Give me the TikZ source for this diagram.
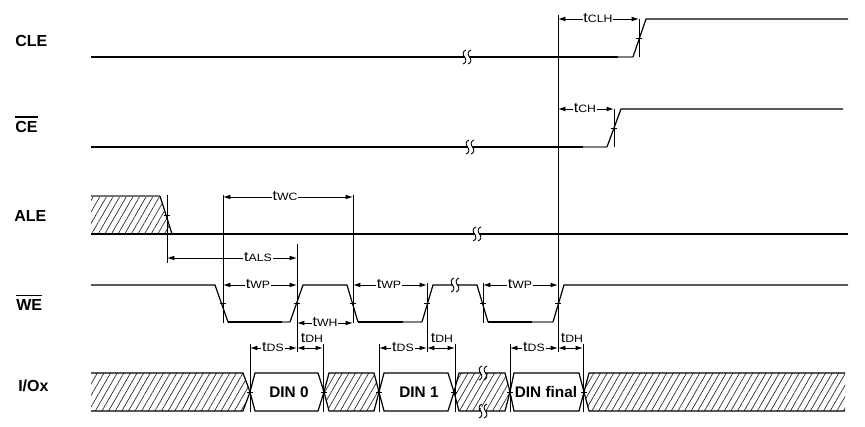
\documentclass[tikz,border=0pt]{standalone}
\usepackage{fontspec}
\setmainfont{Liberation Sans}
\newfontfamily\tfont[FakeStretch=1.15]{Liberation Sans}
\usetikzlibrary{arrows.meta,patterns.meta}
\newcommand\tlab[1]{{\tfont\fontsize{10.5}{11}\selectfont t\fontsize{8}{9}\selectfont #1}}
\tikzset{
 thinw/.style={line width=0.9pt},
 thickw/.style={line width=1.6pt},
 greyw/.style={line width=1.6pt, black!50},
 vref/.style={line width=0.7pt},
 tickm/.style={line width=0.7pt},
 dimarr/.style={line width=0.7pt, {Latex[length=5.5pt,width=3.5pt]}-{Latex[length=5.5pt,width=3.5pt]}},
 dimlab/.style={fill=white, inner sep=0.6pt, anchor=base},
 toplab/.style={inner sep=0pt, anchor=base},
 siglab/.style={font=\bfseries\fontsize{12}{14}\selectfont, inner sep=0pt, anchor=west},
 dinlab/.style={font=\bfseries\fontsize{11.5}{13}\selectfont, inner sep=0pt},
 hatch/.style={pattern={Lines[angle=60,distance=4.3pt,line width=0.5pt]}, pattern color=black!85},
 brk/.pic={
   \fill[white] (-2.2,-4) rectangle (2.2,4);
   \draw[line width=0.7pt] (-1,-7) .. controls (-4.5,-6) and (-4.5,-2) .. (-2.5,0) .. controls (-0.5,2) and (-0.5,6) .. (-4,7);
   \draw[line width=0.7pt] (4,-7) .. controls (0.5,-6) and (0.5,-2) .. (2.5,0) .. controls (4.5,2) and (4.5,6) .. (1,7);
 }
}
\begin{document}
\begin{tikzpicture}[x=0.75pt,y=-0.75pt]
\useasboundingbox (0,0) rectangle (865,427);
% signal labels
\node[siglab] (lcle) at (15,41) {CLE};
\node[siglab] (lce) at (15,127) {CE};
\draw[line width=0.9pt] ([yshift=3pt]lce.north west) -- ([yshift=3pt]lce.north east);
\node[siglab] (lale) at (14,216) {ALE};
\node[siglab] (lwe) at (16,305) {WE};
\draw[line width=0.9pt] ([yshift=3pt]lwe.north west) -- ([yshift=3pt]lwe.north east);
\node[siglab] (lio) at (18,386) {I/Ox};

% CLE
\draw[thickw] (91,57) -- (618,57);
\draw[greyw] (618,57) -- (633,57);
\draw[thinw] (633,57) -- (646,19) -- (848,19);
% CE
\draw[thinw] (91,147) -- (583,147);
\draw[thinw, black!50] (583,147) -- (607,147);
\draw[thinw] (607,147) -- (621,109) -- (843,109);
% ALE
\fill[hatch] (91,196) -- (160,196) -- (172,234) -- (91,234) -- cycle;
\draw[thinw, black!55] (91,196) -- (160,196);
\draw[thinw] (160,196) -- (172,234);
\draw[thickw] (91,234) -- (848,234);
% WE
\draw[thinw] (91,285) -- (215,285) -- (228,322);
\draw[thickw] (228,322) -- (282,322);
\draw[greyw] (282,322) -- (290,322);
\draw[thinw] (290,322) -- (303,285) -- (347,285) -- (358,322);
\draw[thickw] (358,322) -- (403,322);
\draw[greyw] (403,322) -- (422,322);
\draw[thinw] (422,322) -- (433,285) -- (477,285) -- (488,322);
\draw[thickw] (488,322) -- (532,322);
\draw[greyw] (532,322) -- (553,322);
\draw[thinw] (553,322) -- (564,285) -- (848,285);

% I/O bus
\draw[thinw, hatch] (91,373) -- (243,373) -- (250,392) -- (243,411) -- (91,411);
\draw[thinw] (250,392) -- (255,373) -- (318,373) -- (324,392) -- (318,411) -- (255,411) -- cycle;
\draw[thinw, hatch] (324,392) -- (329,373) -- (374,373) -- (379,392) -- (374,411) -- (329,411) -- cycle;
\draw[thinw] (379,392) -- (384,373) -- (448,373) -- (454,392) -- (448,411) -- (384,411) -- cycle;
\draw[thinw, hatch] (454,392) -- (459,373) -- (505,373) -- (510,392) -- (505,411) -- (459,411) -- cycle;
\draw[thinw] (510,392) -- (514,373) -- (579,373) -- (584,392) -- (579,411) -- (514,411) -- cycle;
\draw[thinw, hatch] (845,373) -- (589,373) -- (584,392) -- (589,411) -- (845,411);
\node[dinlab] (din0) at (289,392) {DIN 0};
\node[dinlab] (din1) at (419,392) {DIN 1};
\node[dinlab] (dinf) at (546,392) {DIN final};

% breaks
\pic at (467,57) {brk};
\pic at (470,147) {brk};
\pic at (477,234) {brk};
\pic at (455,285) {brk};
\pic at (483,373) {brk};
\pic at (483,411) {brk};

% reference verticals
\draw[vref] (167,195) -- (167,263);
\draw[vref] (223,195) -- (223,323);
\draw[vref] (353,195) -- (353,323);
\draw[vref] (297,244) -- (297,352);
\draw[vref] (427,283) -- (427,352);
\draw[vref] (483,283) -- (483,323);
\draw[vref] (558,15) -- (558,352);
\draw[vref] (639,19) -- (639,57);
\draw[vref] (614,109) -- (614,147);
\foreach \xx in {250,323,379,455,510,583} \draw[vref] (\xx,344) -- (\xx,412);

% ticks
\foreach \xx/\yy in {639/38,614/128,167/215,223/303,297/303,353/303,427/303,483/303,558/303,250/392,324/392,379/392,454/392,510/392,584/392}
  \draw[tickm] (\xx-3,\yy) -- (\xx+3,\yy);

% dimensions
\draw[dimarr] (558,19) -- (639,19);
\node[dimlab] (tclh) at (598,22.5) {\tlab{CLH}};
\draw[dimarr] (558,109) -- (614,109);
\node[dimlab] (tch) at (585,112.5) {\tlab{CH}};
\draw[dimarr] (223,197) -- (353,197);
\node[dimlab] (twc) at (285,200.5) {\tlab{WC}};
\draw[dimarr] (167,258) -- (297,258);
\node[dimlab] (tals) at (258,261.5) {\tlab{ALS}};
\draw[dimarr] (223,285) -- (297,285);
\node[dimlab] (twp1) at (258,288.5) {\tlab{WP}};
\draw[dimarr] (353,285) -- (427,285);
\node[dimlab] (twp2) at (389,288.5) {\tlab{WP}};
\draw[dimarr] (483,285) -- (558,285);
\node[dimlab] (twp3) at (520,288.5) {\tlab{WP}};
\draw[dimarr] (297,323) -- (353,323);
\node[dimlab] (twh) at (325,326.5) {\tlab{WH}};
\draw[dimarr] (250,348) -- (297,348);
\node[dimlab] (tds1) at (273,351.5) {\tlab{DS}};
\draw[dimarr] (297,348) -- (323,348);
\node[toplab] (tdh1) at (312,343) {\tlab{DH}};
\draw[dimarr] (379,348) -- (427,348);
\node[dimlab] (tds2) at (403,351.5) {\tlab{DS}};
\draw[dimarr] (427,348) -- (455,348);
\node[toplab] (tdh2) at (442,343) {\tlab{DH}};
\draw[dimarr] (510,348) -- (558,348);
\node[dimlab] (tds3) at (534,351.5) {\tlab{DS}};
\draw[dimarr] (558,348) -- (583,348);
\node[toplab] (tdh3) at (572,343) {\tlab{DH}};
\end{tikzpicture}
\end{document}
